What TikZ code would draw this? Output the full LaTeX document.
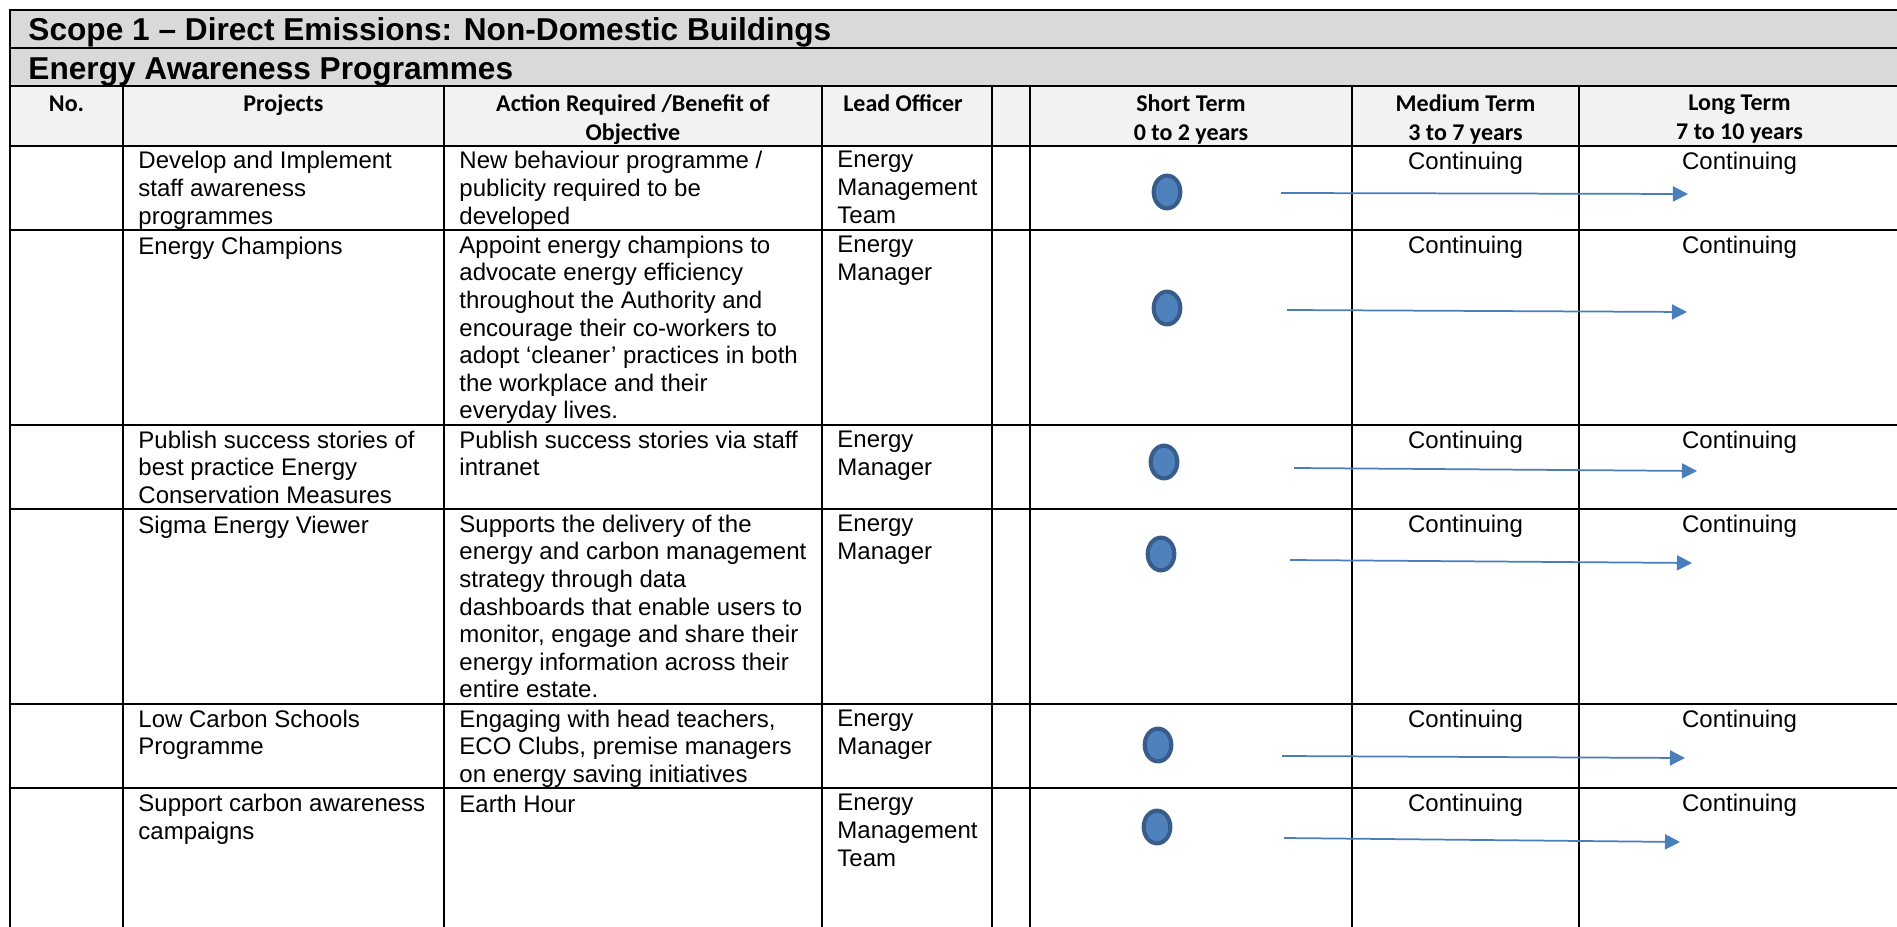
\documentclass[tikz,border=0pt]{standalone}
\usepackage{fontspec}
\setmainfont{Liberation Sans}
\newfontfamily\calibrifont{Carlito}
\usetikzlibrary{arrows.meta,shapes.geometric}
\definecolor{titlegray}{HTML}{D9D9D9}
\definecolor{headgray}{HTML}{F2F2F2}
\definecolor{dotfill}{HTML}{4F81BD}
\definecolor{dotedge}{HTML}{385D8A}
\definecolor{arrowblue}{HTML}{4A7EBB}
\tikzset{
  tblrule/.style={line width=0.65pt, line cap=rect},
  banner/.style={anchor=base west, inner sep=0pt, font=\bfseries\fontsize{14.5}{16.7}\selectfont},
  tblhead/.style={anchor=north, inner sep=0pt, align=center, font=\calibrifont\bfseries\fontsize{11}{13.3}\selectfont, execute at begin node=\strut},
  tblcell/.style={anchor=north west, inner sep=0pt, align=left, font=\fontsize{11}{12.65}\selectfont, execute at begin node=\strut},
  tblcont/.style={anchor=base, inner sep=0pt, font=\fontsize{11}{12.65}\selectfont},
  startdot/.style={ellipse, draw=dotedge, fill=dotfill, line width=1.9pt, minimum width=12.2pt, minimum height=15pt, inner sep=0pt},
  timeline/.style={color=arrowblue, line width=0.8pt, -{Triangle[length=6.9pt,width=6.9pt]}}
}
\begin{document}
\begin{tikzpicture}[x=0.4583pt, y=-0.4583pt]
\useasboundingbox (0,0) rectangle (1897,927);
\fill[titlegray] (10,10) rectangle (1897,86);
\fill[headgray] (10,86) rectangle (1897,146);
\foreach \y in {10,48,86,146,230,425,509,704,788}
  \draw[tblrule] (10,\y) -- (1897,\y);
\draw[tblrule] (10,10) -- (10,927);
\foreach \x in {123,444,822,992,1030,1352,1579}
  \draw[tblrule] (\x,86) -- (\x,927);

\node[banner] (scope) at (28,40.5) {Scope 1 – Direct Emissions: Non-Domestic Buildings};
\node[banner] (prog) at (28,80) {Energy Awareness Programmes};

\node[tblhead] (hno) at (66.5,91) {No.};
\node[tblhead] (hproj) at (283.5,91) {Projects};
\node[tblhead] (hact) at (633,94.5) {Action Required /Benefit of\\Objective};
\node[tblhead] (hlead) at (903,91) {Lead Officer};
\node[tblhead] (hshort) at (1191,94.5) {Short Term\\0 to 2 years};
\node[tblhead] (hmed) at (1465.5,94.5) {Medium Term\\3 to 7 years};
\node[tblhead] (hlong) at (1739.5,94.5) {Long Term\\7 to 10 years};

\node[tblcell] (p1) at (138,151) {Develop and Implement\\staff awareness\\programmes};
\node[tblcell] (a1) at (459,151) {New behaviour programme /\\publicity required to be\\developed};
\node[tblcell] (l1) at (837,151) {Energy\\Management\\Team};

\node[tblcell] (p2) at (138,235) {Energy Champions};
\node[tblcell] (a2) at (459,235.5) {Appoint energy champions to\\advocate energy efficiency\\throughout the Authority and\\encourage their co-workers to\\adopt ‘cleaner’ practices in both\\the workplace and their\\everyday lives.};
\node[tblcell] (l2) at (837,235.5) {Energy\\Manager};

\node[tblcell] (p3) at (138,430.5) {Publish success stories of\\best practice Energy\\Conservation Measures};
\node[tblcell] (a3) at (459,430.5) {Publish success stories via staff\\intranet};
\node[tblcell] (l3) at (837,430.5) {Energy\\Manager};

\node[tblcell] (p4) at (138,514) {Sigma Energy Viewer};
\node[tblcell] (a4) at (459,514.5) {Supports the delivery of the\\energy and carbon management\\strategy through data\\dashboards that enable users to\\monitor, engage and share their\\energy information across their\\entire estate.};
\node[tblcell] (l4) at (837,514.5) {Energy\\Manager};

\node[tblcell] (p5) at (138,709.5) {Low Carbon Schools\\Programme};
\node[tblcell] (a5) at (459,709.5) {Engaging with head teachers,\\ECO Clubs, premise managers\\on energy saving initiatives};
\node[tblcell] (l5) at (837,709.5) {Energy\\Manager};

\node[tblcell] (p6) at (138,794) {Support carbon awareness\\campaigns};
\node[tblcell] (a6) at (459,793) {Earth Hour};
\node[tblcell] (l6) at (837,794) {Energy\\Management\\Team};

\foreach \t [count=\i] in {146,230,425,509,704,788} {
  \node[tblcont] (m\i) at (1465.5,\t+23.5) {Continuing};
  \node[tblcont] (g\i) at (1739.5,\t+23.5) {Continuing};
}

\foreach \i/\dx/\dy/\sx/\sy/\ex/\ey in {1/1167/192/1281/193/1688/194, 2/1167/308/1287/310/1687/312, 3/1164/462/1294/468/1697/471, 4/1161/554/1290/560/1692/563, 5/1158/745/1282/756/1685/758, 6/1157/827/1284/838/1680/842} {
  \node[startdot] (d\i) at (\dx,\dy) {};
  \coordinate (s\i) at (\sx,\sy);
  \coordinate (e\i) at (\ex,\ey);
  \path[timeline] (s\i) edge (e\i);
}
\end{tikzpicture}
\end{document}
